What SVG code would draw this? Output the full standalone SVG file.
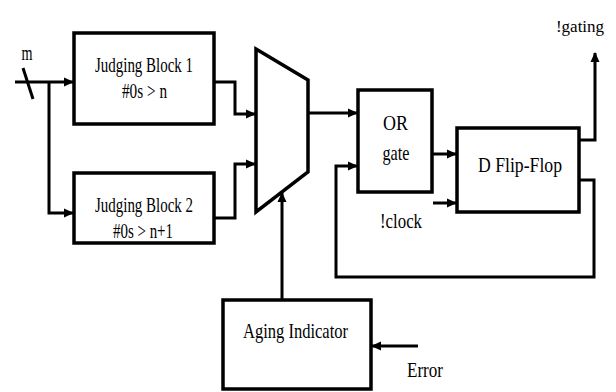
<svg xmlns="http://www.w3.org/2000/svg" width="616" height="392" viewBox="0 0 616 392">
<defs>
<marker id="arr" markerUnits="userSpaceOnUse" markerWidth="10" markerHeight="10" refX="9" refY="5" orient="auto">
<path d="M0,0.5 L10,5 L0,9.5 z" fill="#000"/>
</marker>
<style>
.box{fill:#fff;stroke:#000;stroke-width:3.5}
.w{fill:none;stroke:#000;stroke-width:3;marker-end:url(#arr)}
.p{fill:none;stroke:#000;stroke-width:3}
text{font-family:"Liberation Serif","DejaVu Serif",serif;font-size:22px;fill:#000;text-anchor:middle}
</style>
</defs>
<rect width="616" height="392" fill="#fff"/>
<g id="connectors">
<path class="w" d="M15,82 H73"/>
<path class="p" d="M23,68 L33,99"/>
<path class="w" d="M49,82 V213 H73"/>
<path class="w" d="M214,82 H235 V114 H255"/>
<path class="w" d="M214,218 H235 V164 H255"/>
<path class="w" d="M308,113 H357"/>
<path class="w" d="M432,154 H456"/>
<path class="w" d="M433,203 H456"/>
<path class="w" d="M579,140 H595 V53"/>
<path class="w" d="M579,180 H594 V277 H336 V166 H357"/>
<path class="w" d="M282,300 V193"/>
<path class="w" d="M418,346 H372"/>
</g>
<g id="m-label"><text x="27" y="60" textLength="11" lengthAdjust="spacingAndGlyphs">m</text></g>
<g id="judging1">
<rect class="box" x="74" y="33" width="140" height="91"/>
<text x="144" y="72" textLength="98" lengthAdjust="spacingAndGlyphs">Judging Block 1</text>
<text x="144.5" y="98" textLength="45" lengthAdjust="spacingAndGlyphs">#0s &gt; n</text>
</g>
<g id="judging2">
<rect class="box" x="74" y="173" width="140" height="70"/>
<text x="144" y="212" textLength="98" lengthAdjust="spacingAndGlyphs">Judging Block 2</text>
<text x="143" y="238" textLength="60" lengthAdjust="spacingAndGlyphs">#0s &gt; n+1</text>
</g>
<g id="mux">
<polygon points="256,49 308,80 308,172 256,212" fill="#fff" stroke="#000" stroke-width="3.5"/>
</g>
<g id="or-gate">
<rect class="box" x="358" y="90" width="74" height="102"/>
<text x="395.5" y="130" textLength="25" lengthAdjust="spacingAndGlyphs">OR</text>
<text x="396" y="160" textLength="27" lengthAdjust="spacingAndGlyphs">gate</text>
</g>
<g id="dff">
<rect class="box" x="457" y="128" width="122" height="84"/>
<text x="520" y="172" textLength="84" lengthAdjust="spacingAndGlyphs">D Flip-Flop</text>
</g>
<g id="clock-label"><text x="401" y="228" textLength="42" lengthAdjust="spacingAndGlyphs">!clock</text></g>
<g id="gating-label"><text x="580" y="32" style="font-size:17px">!gating</text></g>
<g id="aging">
<rect class="box" x="223" y="300" width="148" height="89"/>
<text x="295.5" y="338" textLength="105" lengthAdjust="spacingAndGlyphs">Aging Indicator</text>
</g>
<g id="error-label"><text x="425" y="377" textLength="36" lengthAdjust="spacingAndGlyphs">Error</text></g>
</svg>
